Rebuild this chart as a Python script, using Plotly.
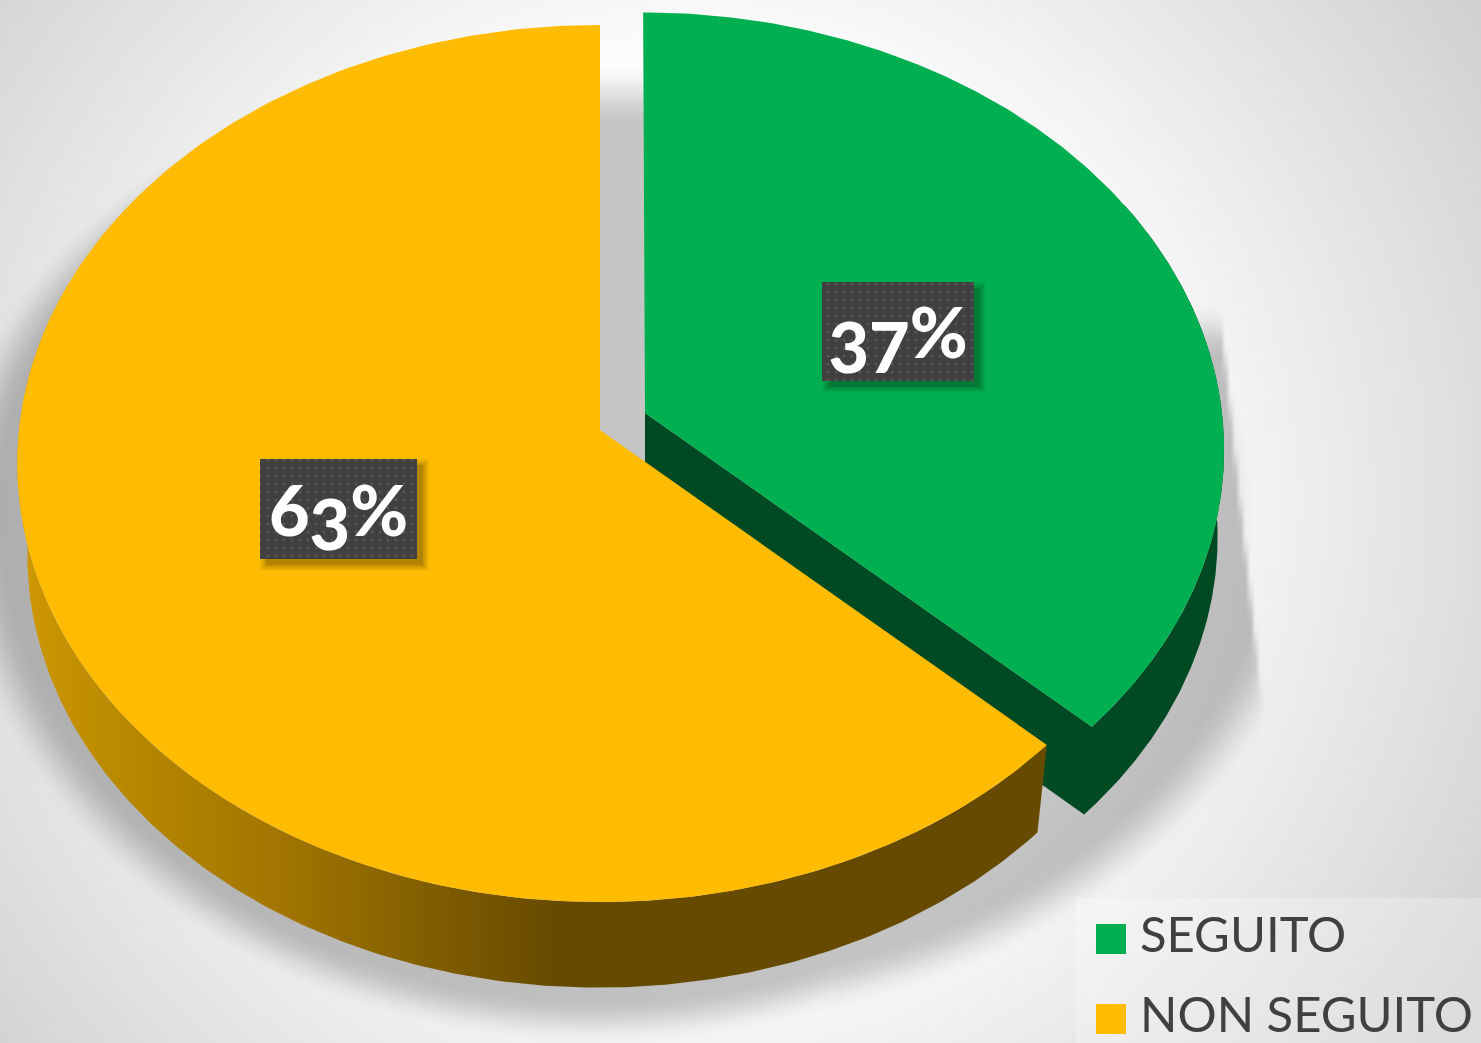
import numpy as np
import plotly.graph_objects as go

categories = ["SEGUITO", "NON SEGUITO"]
shares = [37, 63]
labels_html = [
    "<sub><span style='font-size:143%'>37</span></sub>%",
    "6<sub><span style='font-size:143%'>3</span></sub>%",
]

GREEN = "#00B050"
GREEN_WALL = "#004A23"
YELLOW = "#FFBC03"
YELLOW_WALL = "#664A00"

W, H = 1481, 1043

# projected disc: apex position, half axes, perspective and a small lean
TOP_GREEN = dict(cx=645, cy=413, a=577, b=433, k=0.081, lean=-2)
LOW_GREEN = dict(cx=645, cy=504, a=571, b=430, k=0.076, lean=0)
TOP_YELLOW = dict(cx=600, cy=430, a=581, b=436, k=0.0764, lean=0)
LOW_YELLOW = dict(cx=599, cy=522, a=570, b=430, k=0.0764, lean=0)


def rim(start, stop, cx, cy, a, b, k, lean):
    t = np.radians(np.linspace(start, stop, 240))
    xs, ys = np.sin(t), np.cos(t)
    w = 1 + k * ys
    return cx + (a * xs + lean * ys) / w, cy - b * ys / w


def smooth(e0, e1, v):
    s = np.clip((v - e0) / (e1 - e0), 0, 1)
    return s * s * (3 - 2 * s)


def background():
    xx, yy = np.meshgrid(np.arange(0, W + 5, 5), np.arange(0, H + 5, 5))
    r = np.hypot(xx - 700, yy - 500)
    base = 252 - 39 * np.clip((r - 450) / 420, 0, 1.1)
    # soft shadow under the pie, flatter on its upper half
    ry1 = np.where(yy < 505, 420, 492)
    s1 = np.hypot((xx - 600) / 597, (yy - 505) / ry1)
    s2 = np.hypot((xx - 650) / 610, (yy - 490) / 480)
    d1 = 1 - smooth(1.0, 1.10, s1)
    d2 = 1 - smooth(1.02, 1.13, s2)
    # the shadow of the green slice stops on a sharp slanted edge
    edge = 1220 + (yy - 317) * 0.107
    d2 = d2 * (1 - smooth(-3, 3, xx - edge)) * smooth(300, 360, yy)
    dark = np.maximum(d1, d2) * smooth(62, 125, yy)
    return xx[0], yy[:, 0], np.round(base - 55 * dark)


def rect(x0, y0, x1, y1):
    return [x0, x1, x1, x0, x0], [y0, y0, y1, y1, y0]


def poly(xs, ys, color, **kw):
    return go.Scatter(
        x=xs, y=ys, mode="lines", fill="toself", fillcolor=color,
        line=dict(width=0), hoverinfo="skip", showlegend=False, **kw,
    )


def text_mark(x, y, text, position, font):
    return go.Scatter(
        x=[x], y=[y], mode="text", text=[text], textposition=position,
        textfont=font, hoverinfo="skip", showlegend=False,
    )


fig = go.Figure()

bx, by, bz = background()
fig.add_trace(
    go.Heatmap(
        x=bx, y=by, z=bz, zmin=0, zmax=255, zsmooth="best", showscale=False,
        colorscale=[[0, "#000000"], [1, "#FFFFFF"]], hoverinfo="skip",
    )
)

split = 360 * shares[0] / sum(shares)

# green wall: cut face and outer arc as one outline
tx, ty = rim(60, split, **TOP_GREEN)
lx, ly = rim(60, split, **LOW_GREEN)
fig.add_trace(
    poly(
        np.r_[TOP_GREEN["cx"], tx[::-1], lx, LOW_GREEN["cx"]],
        np.r_[TOP_GREEN["cy"], ty[::-1], ly, LOW_GREEN["cy"]],
        GREEN_WALL,
    )
)
# green top
tx, ty = rim(0, split, **TOP_GREEN)
fig.add_trace(poly(np.r_[TOP_GREEN["cx"], tx], np.r_[TOP_GREEN["cy"], ty], GREEN))

# yellow wall
tx, ty = rim(split, 290, **TOP_YELLOW)
lx, ly = rim(split, 290, **LOW_YELLOW)
fig.add_trace(
    poly(
        np.r_[tx, lx[::-1]],
        np.r_[ty, ly[::-1]],
        YELLOW_WALL,
        fillgradient=dict(
            type="horizontal", start=20, stop=1045,
            colorscale=[
                [0.0, "#CE9800"], [0.1, "#B88800"], [0.25, "#A27600"],
                [0.42, "#7C5A00"], [0.53, YELLOW_WALL], [1.0, YELLOW_WALL],
            ],
        ),
    )
)
# yellow top
tx, ty = rim(split, 360, **TOP_YELLOW)
fig.add_trace(poly(np.r_[TOP_YELLOW["cx"], tx], np.r_[TOP_YELLOW["cy"], ty], YELLOW))

# value labels: dark dotted boxes with a soft shadow
boxes = [(822, 282, 974, 381), (260, 459, 417, 559)]
for (x0, y0, x1, y1), text in zip(boxes, labels_html):
    for grow, alpha in [(6, 0.05), (4, 0.07), (2, 0.09), (0, 0.12)]:
        sx, sy = rect(x0 + 6 - grow, y0 + 6 - grow, x1 + 6 + grow, y1 + 6 + grow)
        fig.add_trace(poly(sx, sy, f"rgba(0,0,0,{alpha})"))
    sx, sy = rect(x0, y0, x1, y1)
    fig.add_trace(
        poly(
            sx, sy, "#404040",
            fillpattern=dict(
                shape=".", size=8, solidity=0.12, fgcolor="#6A6A6A", bgcolor="#404040",
            ),
        )
    )
    fig.add_trace(
        text_mark(
            (x0 + x1) / 2, (y0 + y1) / 2 + 9, text, "middle center",
            dict(family="Lato", size=70, color="#FFFFFF", weight=900),
        )
    )

# legend
sx, sy = rect(1076, 898, W, H)
fig.add_trace(poly(sx, sy, "rgba(255,255,255,0.25)"))
swatch_y = [939, 1019]
for name, color, y in zip(categories, [GREEN, YELLOW], swatch_y):
    fig.add_trace(
        go.Scatter(
            x=[1111], y=[y], mode="markers", hoverinfo="skip", showlegend=False,
            marker=dict(symbol="square", size=30, color=color, line=dict(width=0)),
        )
    )
    fig.add_trace(
        text_mark(
            1140, y + 1, name, "middle right",
            dict(family="Lato", size=49, color="#404040"),
        )
    )

fig.update_layout(
    width=W,
    height=H,
    margin=dict(l=0, r=0, t=0, b=0),
    paper_bgcolor="#EEEEEE",
    plot_bgcolor="#EEEEEE",
    showlegend=False,
    xaxis=dict(range=[0, W], visible=False, fixedrange=True),
    yaxis=dict(range=[H, 0], visible=False, fixedrange=True),
)

fig.write_html(
    "out.html",
    config=dict(displayModeBar=False),
    post_script="document.body.style.margin='0';",
)
